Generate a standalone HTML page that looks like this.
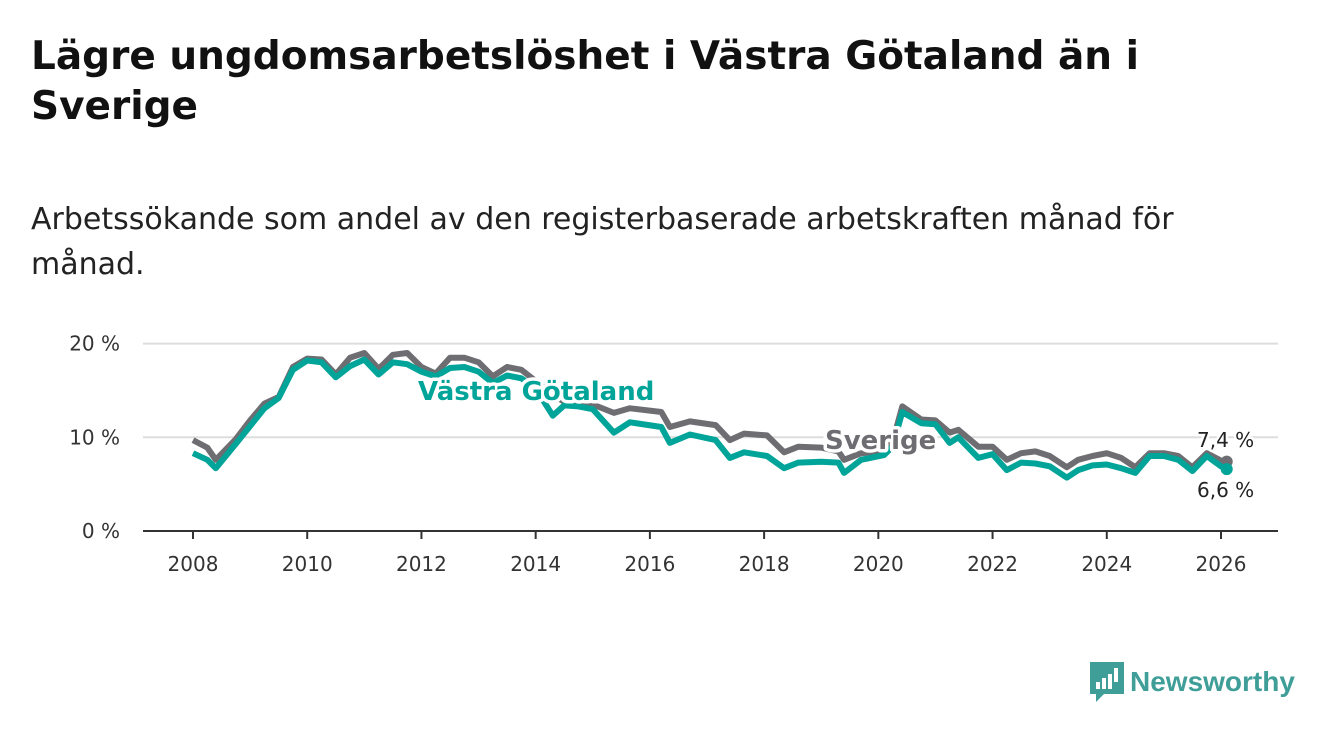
<!DOCTYPE html>
<html><head><meta charset="utf-8"><style>
body{margin:0;width:1340px;height:734px;background:#fff;font-family:"DejaVu Sans","Liberation Sans",sans-serif;overflow:hidden;position:relative}
h1{position:absolute;left:31px;top:32px;margin:0;font-size:39px;line-height:50px;font-weight:bold;color:#111;white-space:nowrap}
p.sub{position:absolute;left:31px;top:197px;margin:0;font-size:30px;line-height:45px;color:#222;white-space:nowrap}
</style></head><body>
<h1>Lägre ungdomsarbetslöshet i Västra Götaland än i<br>Sverige</h1>
<p class="sub">Arbetssökande som andel av den registerbaserade arbetskraften månad för<br>månad.</p>
<svg id="chart" width="1340" height="734" style="position:absolute;left:0;top:0;font-family:'DejaVu Sans',sans-serif"></svg>
<div style="position:absolute;left:1088px;top:660px;display:flex;align-items:center">
<svg width="36" height="44"><path d="M2 2h34v32H16l-8 8v-8H2z" fill="#3f9e98"/><rect x="8" y="22" width="4" height="7" fill="#fff"/><rect x="14" y="18" width="4" height="11" fill="#fff"/><rect x="20" y="14" width="4" height="15" fill="#fff"/><rect x="26" y="8" width="4" height="14" fill="#fff"/></svg>
<span style="font-size:28px;color:#3f9e98;margin-left:6px;font-weight:bold;font-family:'Liberation Sans',sans-serif">Newsworthy</span></div>
<script>
const years=[2008,2010,2012,2014,2016,2018,2020,2022,2024,2026];
const yTicks=[0,10,20];
const t=[2008,2008.25,2008.4,2008.75,2009,2009.25,2009.5,2009.75,2010,2010.25,2010.5,2010.75,2011,2011.25,2011.5,2011.75,2012,2012.25,2012.5,2012.75,2013,2013.25,2013.5,2013.75,2014,2014.3,2014.5,2014.75,2015,2015.37,2015.65,2016.2,2016.35,2016.7,2017.15,2017.4,2017.65,2018.05,2018.35,2018.6,2019,2019.3,2019.4,2019.7,2020.1,2020.25,2020.42,2020.75,2021,2021.25,2021.4,2021.75,2022,2022.25,2022.5,2022.75,2023,2023.3,2023.5,2023.75,2024,2024.25,2024.5,2024.75,2025,2025.25,2025.5,2025.75,2026,2026.1];
const sverige=[9.7,8.9,7.6,9.8,11.8,13.6,14.3,17.5,18.4,18.3,16.7,18.5,19.0,17.3,18.8,19.0,17.5,16.8,18.5,18.5,18.0,16.5,17.5,17.2,16.0,14.5,13.8,13.5,13.5,12.6,13.1,12.7,11.1,11.7,11.3,9.7,10.4,10.2,8.4,9.0,8.9,8.5,7.6,8.3,8.5,9.5,13.3,11.9,11.8,10.5,10.8,9.0,9.0,7.6,8.3,8.5,8.0,6.8,7.6,8.0,8.3,7.8,6.8,8.3,8.3,8.0,6.8,8.3,7.5,7.4];
const vg=[8.3,7.6,6.7,9.3,11.2,13.1,14.2,17.2,18.2,18.0,16.4,17.6,18.3,16.7,18.0,17.8,17.0,16.5,17.4,17.5,17.0,15.8,16.6,16.3,15.2,12.3,13.4,13.3,13.0,10.5,11.6,11.1,9.4,10.3,9.7,7.8,8.4,8.0,6.7,7.3,7.4,7.3,6.2,7.6,8.1,9.0,12.7,11.5,11.4,9.4,10.0,7.8,8.2,6.5,7.3,7.2,6.9,5.7,6.5,7.0,7.1,6.7,6.2,8.0,8.0,7.6,6.4,8.0,6.9,6.6];
const svg=document.getElementById('chart');const NS='http://www.w3.org/2000/svg';
const X=v=>193+(v-2008)*(1028/18);const Y=v=>531-v*9.37;
function mk(tag,at,txt){const e=document.createElementNS(NS,tag);for(const k in at)e.setAttribute(k,at[k]);if(txt!=null)e.textContent=txt;svg.appendChild(e);return e;}
yTicks.forEach(v=>{
const g=mk('line',{x1:143,x2:1278,y1:Y(v),y2:Y(v),stroke:v==0?'#333':'#ddd','stroke-width':2});


const l=mk('text',{x:120,y:Y(v)+7,'text-anchor':'end','font-size':20,fill:'#333'},v+' %');

});
years.forEach(v=>{
const tk=mk('line',{x1:X(v),x2:X(v),y1:531,y2:539,stroke:'#333','stroke-width':2});


const l=mk('text',{x:X(v),y:571,'text-anchor':'middle','font-size':20,fill:'#333'},v);

});
function line(arr,col,name){const p=mk('path',{d:arr.map((v,i)=>(i?'L':'M')+X(t[i]).toFixed(1)+' '+Y(v).toFixed(1)).join(''),fill:'none',stroke:col,'stroke-width':6,'stroke-linejoin':'round'});


const n=arr.length-1;const c=mk('circle',{cx:X(t[n]),cy:Y(arr[n]),r:6,fill:col});

}
line(sverige,'#6e6d72','sverige-line');line(vg,'#00a498','vastra-gotaland-line');
function lab(x,y,txt,col,name,sz,bold){const l=mk('text',{x:x,y:y,'font-size':sz,fill:col,'font-weight':bold?'bold':'normal',stroke:'#fff','stroke-width':bold?7:5,'paint-order':'stroke','stroke-linejoin':'round'},txt);

}
lab(418,400,'Västra Götaland','#00a498','label-vastra-gotaland',26,true);
lab(825,449,'Sverige','#6e6d72','label-sverige',26,true);
lab(1197,447,'7,4 %','#222','end-value-sverige',20,false);
lab(1197,497,'6,6 %','#222','end-value-vg',20,false);
</script></body></html>
